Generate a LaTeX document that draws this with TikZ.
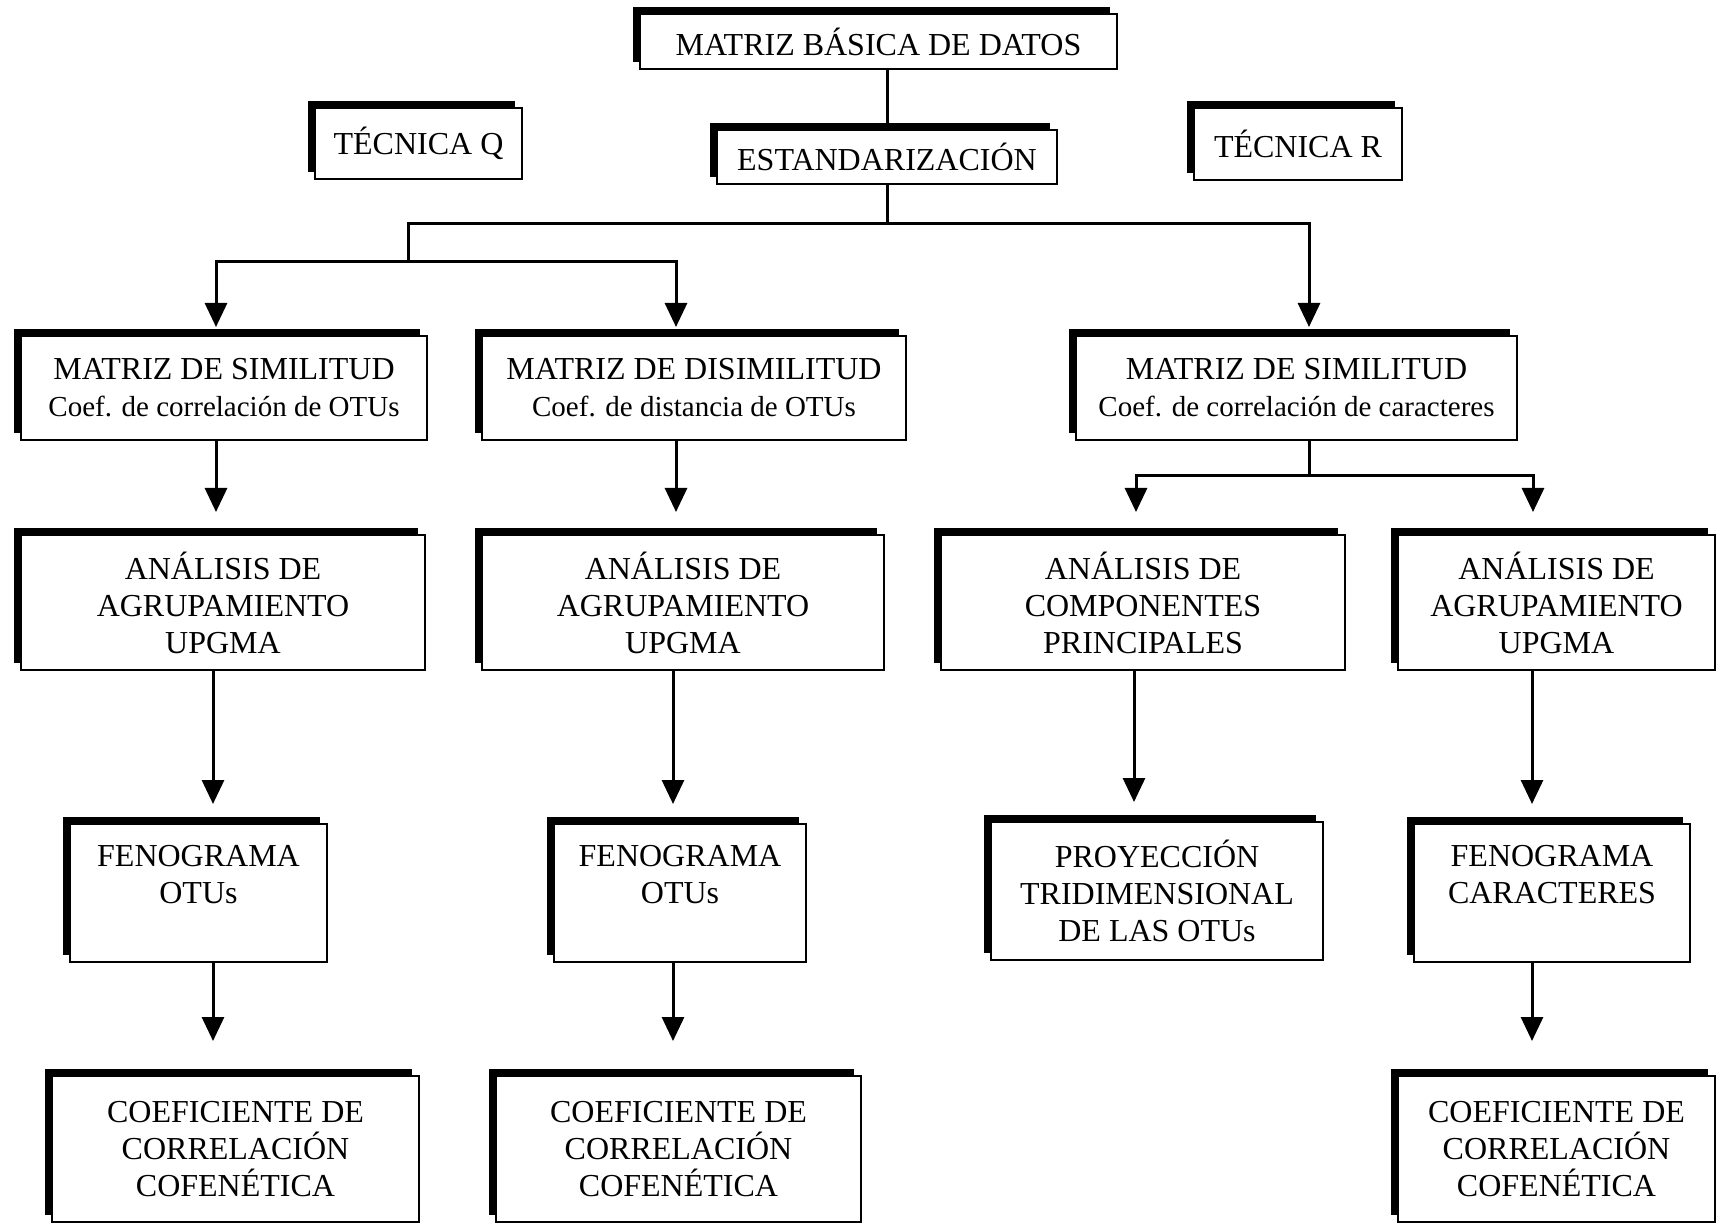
\documentclass[tikz,border=0pt]{standalone}
\usepackage{fontspec}
\setmainfont{Liberation Serif}
\usetikzlibrary{arrows.meta,shadows}
\newcommand{\segunda}[1]{{\fontsize{14.5}{18.5}\selectfont #1}}

\begin{document}
\begin{tikzpicture}[x=0.5pt,y=-0.5pt,
  caja/.style={draw,fill=white,line width=1pt,inner sep=0pt,align=center,font=\fontsize{16}{18.5}\selectfont,general shadow={fill=black,shadow xshift=-3.5pt,shadow yshift=3.5pt}},
  linea/.style={line width=1.5pt,line cap=rect},
  flecha/.style={-{Triangle[length=12pt,width=11pt]},line width=1.5pt}]

\useasboundingbox (0,0) rectangle (1729,1224);

\node[caja, minimum width=238.5pt, minimum height=27.5pt] (matriz) at (878.5,41.5) {MATRIZ BÁSICA DE DATOS};
\node[caja, minimum width=103.5pt, minimum height=35.5pt] (tecq) at (418.5,143.5) {TÉCNICA Q};
\node[caja, minimum width=170pt, minimum height=27pt] (estand) at (887,157) {ESTANDARIZACIÓN};
\node[caja, minimum width=104pt, minimum height=36pt] (tecr) at (1298,144) {TÉCNICA R};

\node[caja, minimum width=203pt, minimum height=52pt] (simq) at (224,388) {MATRIZ DE SIMILITUD\\\segunda{Coef. de correlación de OTUs}};
\node[caja, minimum width=212pt, minimum height=52pt] (disq) at (694,388) {MATRIZ DE DISIMILITUD\\\segunda{Coef. de distancia de OTUs}};
\node[caja, minimum width=220.5pt, minimum height=52pt] (simr) at (1296.5,388) {MATRIZ DE SIMILITUD\\\segunda{Coef. de correlación de caracteres}};

\node[caja, minimum width=202pt, minimum height=67.5pt] (agrq) at (223,602.5) {ANÁLISIS DE\\AGRUPAMIENTO\\UPGMA};
\node[caja, minimum width=201pt, minimum height=67.5pt] (agrd) at (683,602.5) {ANÁLISIS DE\\AGRUPAMIENTO\\UPGMA};
\node[caja, minimum width=202pt, minimum height=67.5pt] (acp) at (1143,602.5) {ANÁLISIS DE\\COMPONENTES\\PRINCIPALES};
\node[caja, minimum width=158.5pt, minimum height=67.5pt] (agrr) at (1556.5,602.5) {ANÁLISIS DE\\AGRUPAMIENTO\\UPGMA};

\node[caja, minimum width=128.5pt, minimum height=69pt] (fenq) at (198.5,893) {FENOGRAMA\\OTUs\\{}};
\node[caja, minimum width=126pt, minimum height=69pt] (fend) at (680,893) {FENOGRAMA\\OTUs\\{}};
\node[caja, minimum width=166pt, minimum height=69pt] (proy) at (1157,891) {PROYECCIÓN\\TRIDIMENSIONAL\\DE LAS OTUs};
\node[caja, minimum width=138pt, minimum height=69pt] (fenr) at (1552,893) {FENOGRAMA\\CARACTERES\\{}};

\node[caja, minimum width=183.5pt, minimum height=73pt] (cofq) at (235.5,1149) {COEFICIENTE DE\\CORRELACIÓN\\COFENÉTICA};
\node[caja, minimum width=182.5pt, minimum height=73pt] (cofd) at (678.5,1149) {COEFICIENTE DE\\CORRELACIÓN\\COFENÉTICA};
\node[caja, minimum width=158.5pt, minimum height=73pt] (cofr) at (1556.5,1149) {COEFICIENTE DE\\CORRELACIÓN\\COFENÉTICA};

\coordinate (jq) at (408,224);
\coordinate (jr) at (1309,224);
\coordinate (jq2) at (408,262);
\coordinate (js) at (216,262);
\coordinate (jd) at (676,262);
\coordinate (jc) at (1309,476);
\coordinate (jp) at (1136,476);
\coordinate (ja) at (1533,476);
\coordinate (k1) at (213,0);
\coordinate (k2) at (673,0);
\coordinate (k3) at (1134,0);
\coordinate (k4) at (1532,0);

\draw[linea] (matriz.south -| estand.north) -- (estand.north);
\draw[linea] (estand.south) -- (estand.south |- jq);
\draw[linea] (jq2) -- (jq) -- (jr);
\draw[linea] (js) -- (jd);
\draw[flecha, shorten >=4pt] (js) -- (simq.north -| js);
\draw[flecha, shorten >=4pt] (jd) -- (disq.north -| jd);
\draw[flecha, shorten >=4pt] (jr) -- (simr.north -| jr);

\draw[flecha, shorten >=11pt] (simq.south -| js) -- (agrq.north -| js);
\draw[flecha, shorten >=11pt] (disq.south -| jd) -- (agrd.north -| jd);
\draw[linea] (simr.south -| jr) -- (jc);
\draw[linea] (jp) -- (ja);
\draw[flecha, shorten >=11pt] (jp) -- (acp.north -| jp);
\draw[flecha, shorten >=11pt] (ja) -- (agrr.north -| ja);

\draw[flecha, shorten >=9.5pt] (agrq.south -| k1) -- (fenq.north -| k1);
\draw[flecha, shorten >=9.5pt] (agrd.south -| k2) -- (fend.north -| k2);
\draw[flecha, shorten >=9.5pt] (acp.south -| k3) -- (proy.north -| k3);
\draw[flecha, shorten >=9.5pt] (agrr.south -| k4) -- (fenr.north -| k4);

\draw[flecha, shorten >=17pt] (fenq.south -| k1) -- (cofq.north -| k1);
\draw[flecha, shorten >=17pt] (fend.south -| k2) -- (cofd.north -| k2);
\draw[flecha, shorten >=17pt] (fenr.south -| k4) -- (cofr.north -| k4);
\end{tikzpicture}
\end{document}
